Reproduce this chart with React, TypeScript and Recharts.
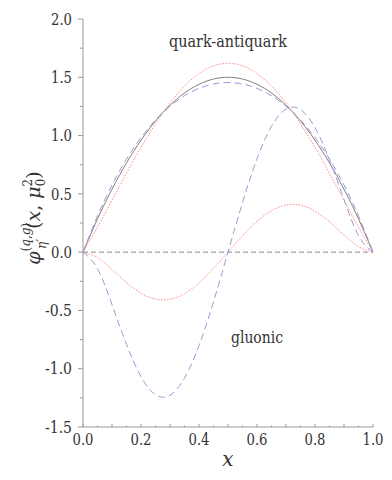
import React from "react";
import { LineChart, Line, XAxis, YAxis, ReferenceLine } from "recharts";

const xValues = [0, 0.05, 0.1, 0.15, 0.2, 0.25, 0.3, 0.35, 0.4, 0.45, 0.5, 0.55, 0.6, 0.65, 0.7, 0.75, 0.8, 0.85, 0.9, 0.95, 1];
const quarkSolid = [0, 0.285, 0.54, 0.765, 0.96, 1.125, 1.26, 1.365, 1.44, 1.485, 1.5, 1.485, 1.44, 1.365, 1.26, 1.125, 0.96, 0.765, 0.54, 0.285, 0];
const quarkRed = [0, 0.215, 0.445, 0.676, 0.899, 1.1, 1.28, 1.425, 1.532, 1.598, 1.62, 1.598, 1.532, 1.425, 1.28, 1.1, 0.899, 0.676, 0.445, 0.215, 0];
const quarkBlue = [0, 0.311, 0.576, 0.798, 0.983, 1.133, 1.252, 1.342, 1.405, 1.443, 1.455, 1.443, 1.405, 1.342, 1.252, 1.133, 0.983, 0.798, 0.576, 0.311, 0];
const gluonBlue = [0, -0.141, -0.451, -0.791, -1.068, -1.223, -1.227, -1.08, -0.801, -0.426, 0, 0.426, 0.801, 1.08, 1.227, 1.223, 1.068, 0.791, 0.451, 0.141, 0];
const gluonRed = [0, -0.047, -0.148, -0.261, -0.352, -0.403, -0.404, -0.356, -0.264, -0.14, 0, 0.14, 0.264, 0.356, 0.404, 0.403, 0.352, 0.261, 0.148, 0.047, 0];

const xTicks = [0, 0.05, 0.1, 0.15, 0.2, 0.25, 0.3, 0.35, 0.4, 0.45, 0.5, 0.55, 0.6, 0.65, 0.7, 0.75, 0.8, 0.85, 0.9, 0.95, 1];
const yTicks = [-1.5, -1.25, -1, -0.75, -0.5, -0.25, 0, 0.25, 0.5, 0.75, 1, 1.25, 1.5, 1.75, 2];

const rows = xValues.map((x, i) => ({
  x,
  qs: quarkSolid[i],
  qr: quarkRed[i],
  qb: quarkBlue[i],
  gb: gluonBlue[i],
  gr: gluonRed[i],
}));

const AXIS = "#999";
const TEXT = "#333";
const FONT = '"DejaVu Serif", "Liberation Serif", "Noto Serif", "Times New Roman", serif';
const RED = "#ff8a8a";
const BLUE = "#9a9ad8";
const GRAY = "#808080";
const serif = { fontFamily: FONT };

const isMult = (v: number, step: number) => Math.abs(v / step - Math.round(v / step)) < 1e-6;
const fmt = (v: number) => (v < 0 ? "-" : "") + Math.abs(v).toFixed(1);

const BottomTick = (p: any) => {
  const { x, y, payload } = p;
  const v = payload.value as number;
  const major = isMult(v, 0.1);
  return (
    <g>
      <line x1={x} x2={x} y1={y} y2={y - (major ? 3 : 1.5)} stroke={AXIS} />
      {isMult(v, 0.2) && (
        <text x={x} y={y + 17.5} textAnchor="middle" style={serif} fontSize={16} textLength={21} lengthAdjust="spacingAndGlyphs" fill={TEXT}>
          {fmt(v)}
        </text>
      )}
    </g>
  );
};

const TopTick = (p: any) => {
  const { x, y, payload } = p;
  const v = payload.value as number;
  const major = isMult(v, 0.1);
  return <line x1={x} x2={x} y1={y} y2={y - (major ? 5 : 3)} stroke={AXIS} />;
};

const LeftTick = (p: any) => {
  const { x, y, payload } = p;
  const v = payload.value as number;
  const major = isMult(v, 0.5);
  const label = fmt(v);
  return (
    <g>
      <line x1={x} x2={x - (major ? 5 : 3)} y1={y} y2={y} stroke={AXIS} />
      {major && (
        <text x={x - 11} y={y} dy="0.36em" textAnchor="end" style={serif} fontSize={16} textLength={label.length > 3 ? 27 : 21} lengthAdjust="spacingAndGlyphs" fill={TEXT}>
          {label}
        </text>
      )}
    </g>
  );
};

const RightTick = (p: any) => {
  const { x, y } = p;
  return <line x1={x} x2={x + 5} y1={y} y2={y} stroke={AXIS} />;
};

export default function App() {
  return (
    <div style={{ position: "absolute", left: 0, top: 0, width: 392, height: 480 }}>
      <LineChart width={392} height={480} data={rows} margin={{ top: 19, right: 19, bottom: 0, left: 23 }}>
        <XAxis
          dataKey="x"
          type="number"
          domain={[0, 1]}
          ticks={xTicks}
          interval={0}
          height={53}
          tickLine={false}
          tickSize={0}
          tickMargin={0}
          axisLine={{ stroke: AXIS }}
          tick={<BottomTick />}
        />
        <XAxis
          xAxisId="top"
          orientation="top"
          dataKey="x"
          type="number"
          domain={[0, 1]}
          ticks={xTicks}
          interval={0}
          height={0}
          tickLine={false}
          tickSize={0}
          tickMargin={0}
          axisLine={{ stroke: AXIS }}
          tick={<TopTick />}
        />
        <YAxis
          type="number"
          domain={[-1.5, 2]}
          ticks={yTicks}
          interval={0}
          width={60}
          tickLine={false}
          tickSize={0}
          tickMargin={0}
          axisLine={{ stroke: AXIS }}
          tick={<LeftTick />}
        />
        <YAxis
          yAxisId="right"
          orientation="right"
          type="number"
          domain={[-1.5, 2]}
          ticks={yTicks}
          interval={0}
          width={0}
          tickLine={false}
          tickSize={0}
          tickMargin={0}
          axisLine={{ stroke: AXIS }}
          tick={<RightTick />}
        />
        <ReferenceLine y={0} stroke="#8a8a8a" strokeDasharray="5 3" />
        <Line type="natural" dataKey="qs" stroke={GRAY} strokeWidth={1} dot={false} isAnimationActive={false} />
        <Line type="natural" dataKey="qr" stroke={RED} strokeWidth={1} strokeDasharray="1.5 1.5" dot={false} isAnimationActive={false} />
        <Line type="natural" dataKey="qb" stroke={BLUE} strokeWidth={1} strokeDasharray="7 4" dot={false} isAnimationActive={false} />
        <Line type="natural" dataKey="gr" stroke={RED} strokeWidth={1} strokeDasharray="1.5 1.5" dot={false} isAnimationActive={false} />
        <Line type="natural" dataKey="gb" stroke={BLUE} strokeWidth={1} strokeDasharray="7 4" dot={false} isAnimationActive={false} />
      </LineChart>
      <svg width={392} height={480} style={{ position: "absolute", left: 0, top: 0, pointerEvents: "none" }}>
        <text x={228} y={47} textAnchor="middle" style={serif} fontSize={17} textLength={118} lengthAdjust="spacingAndGlyphs" fill={TEXT}>quark-antiquark</text>
        <text x={257} y={343} textAnchor="middle" style={serif} fontSize={17} textLength={52} lengthAdjust="spacingAndGlyphs" fill={TEXT}>gluonic</text>
        <text x={228} y={466} textAnchor="middle" style={serif} fontSize={20} fontStyle="italic" fill={TEXT}>x</text>
        <text transform="translate(40,218) rotate(-90)" textAnchor="middle" style={serif} fontSize={19} fill={TEXT}>
          <tspan fontStyle="italic">φ</tspan>
          <tspan fontSize={12} dy={-10}>(</tspan>
          <tspan fontSize={12} fontStyle="italic">q</tspan>
          <tspan fontSize={12}>,</tspan>
          <tspan fontSize={12} fontStyle="italic">g</tspan>
          <tspan fontSize={12}>)</tspan>
          <tspan fontSize={12} fontStyle="italic" dx={-26} dy={16}>η′</tspan>
          <tspan dx={10} dy={-6}>(</tspan>
          <tspan fontStyle="italic">x</tspan>
          <tspan>, </tspan>
          <tspan fontStyle="italic">μ</tspan>
          <tspan fontSize={12} dy={-8}>2</tspan>
          <tspan fontSize={12} dx={-7.5} dy={13}>0</tspan>
          <tspan dy={-5}>)</tspan>
        </text>
      </svg>
    </div>
  );
}
